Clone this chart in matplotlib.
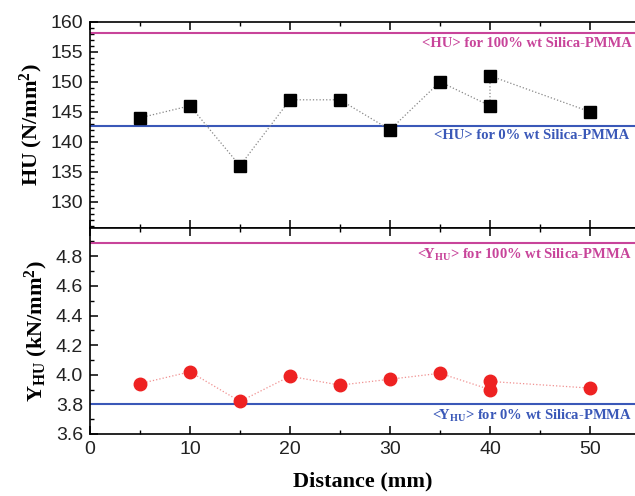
import matplotlib
matplotlib.use("Agg")
import matplotlib.pyplot as plt
from matplotlib.ticker import MultipleLocator

plt.rcParams["font.family"] = ["Liberation Sans", "DejaVu Sans"]
plt.rcParams["mathtext.fontset"] = "custom"
plt.rcParams["mathtext.rm"] = "Liberation Serif:bold"
plt.rcParams["mathtext.bf"] = "Liberation Serif:bold"
plt.rcParams["mathtext.it"] = "Liberation Serif:bold"

# measured points, in sampling order
distance = [5, 10, 15, 20, 25, 30, 35, 40, 40, 50]
hu = [144, 146, 136, 147, 147, 142, 150, 146, 151, 145]
y_hu = [3.94, 4.02, 3.82, 3.99, 3.93, 3.97, 4.01, 3.90, 3.955, 3.91]

# reference levels
hu_pmma_100 = 158.2
hu_pmma_0 = 142.7
yhu_pmma_100 = 4.89
yhu_pmma_0 = 3.80

MAGENTA = "#c8449a"
BLUE = "#3a58b8"
SERIF = "Liberation Serif"

fig = plt.figure(figsize=(6.35, 4.96), dpi=100)
ax1 = fig.add_axes([0.1417, 0.540, 0.8583, 0.416])
ax2 = fig.add_axes([0.1417, 0.125, 0.8583, 0.415], sharex=ax1)

# upper panel: HU
ax1.axhline(hu_pmma_100, color=MAGENTA, lw=1.5)
ax1.axhline(hu_pmma_0, color=BLUE, lw=1.5)
ax1.plot(distance, hu, ls=":", color="#888888", lw=0.9)
ax1.plot(distance, hu, ls="none", marker="s", ms=8.5, color="black")
ax1.text(54.2, 156.4, "<HU> for 100% wt Silica-PMMA", color=MAGENTA,
         fontsize=10.5, fontweight="bold", family=SERIF, ha="right", va="center")
ax1.text(53.9, 141.0, "<HU> for 0% wt Silica-PMMA", color=BLUE,
         fontsize=10.5, fontweight="bold", family=SERIF, ha="right", va="center")
ax1.set_ylim(125.6, 160)
ax1.set_yticks([130, 135, 140, 145, 150, 155, 160])
ax1.yaxis.set_minor_locator(MultipleLocator(1))
ax1.set_ylabel("HU (N/mm$^{2}$)", family=SERIF, fontweight="bold",
               fontsize=16, labelpad=4)

# lower panel: Y_HU
ax2.axhline(yhu_pmma_100, color=MAGENTA, lw=1.5)
ax2.axhline(yhu_pmma_0, color=BLUE, lw=1.5)
ax2.plot(distance, y_hu, ls=":", color="#f09090", lw=0.9)
ax2.plot(distance, y_hu, ls="none", marker="o", ms=9, color="#ee2222")
ax2.text(54.2, 4.81, r"<Y$_{\mathbf{HU}}$> for 100% wt Silica-PMMA", color=MAGENTA,
         fontsize=10.5, fontweight="bold", family=SERIF, ha="right", va="center")
ax2.text(54.2, 3.72, r"<Y$_{\mathbf{HU}}$> for 0% wt Silica-PMMA", color=BLUE,
         fontsize=10.5, fontweight="bold", family=SERIF, ha="right", va="center")
ax2.set_ylim(3.6, 4.99)
ax2.set_yticks([3.6, 3.8, 4.0, 4.2, 4.4, 4.6, 4.8])
ax2.yaxis.set_minor_locator(MultipleLocator(0.1))
ax2.set_ylabel(r"Y$_{\mathbf{HU}}$ (kN/mm$^{2}$)", family=SERIF, fontweight="bold",
               fontsize=16, labelpad=4)
ax2.set_xlabel("Distance (mm)", family=SERIF, fontweight="bold", fontsize=16,
               labelpad=10)

ax2.set_xlim(0, 54.5)
ax2.xaxis.set_major_locator(MultipleLocator(10))
ax2.xaxis.set_minor_locator(MultipleLocator(5))

for ax in (ax1, ax2):
    ax.spines["right"].set_visible(False)
    for s in ("left", "top", "bottom"):
        ax.spines[s].set_linewidth(1.2)
    ax.tick_params(axis="both", which="both", direction="in", top=True,
                   right=False, labelsize=14, pad=5, labelcolor="#222222")
    ax.tick_params(which="major", length=6, width=1.1)
    ax.tick_params(which="minor", length=3, width=1.0)
ax1.tick_params(axis="x", labelbottom=False)

fig.savefig("out.png", dpi=100)
